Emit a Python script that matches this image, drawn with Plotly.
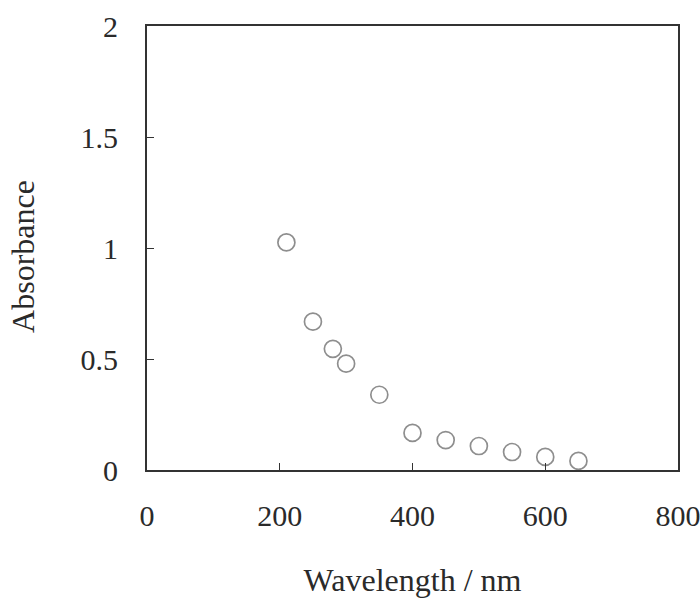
import plotly.graph_objects as go

wavelength = [210, 250, 280, 300, 350, 400, 450, 500, 550, 600, 650]
absorbance = [1.025, 0.668, 0.546, 0.479, 0.339, 0.167, 0.135, 0.108, 0.081, 0.059, 0.041]

x_ticks = [0, 200, 400, 600, 800]
y_ticks = [0, 0.5, 1, 1.5, 2]
y_tick_text = ["0", "0.5", "1", "1.5", "2"]

font_family = "Liberation Serif, Times New Roman, serif"

fig = go.Figure()
fig.add_trace(go.Scatter(
    x=wavelength, y=absorbance, mode="markers",
    marker=dict(symbol="circle-open", size=17, color="#8e8e8e", line=dict(width=1.7, color="#8e8e8e")),
    showlegend=False,
))

fig.update_layout(
    width=700, height=599,
    margin=dict(l=147, r=22, t=26, b=129),
    plot_bgcolor="white", paper_bgcolor="white",
    font=dict(family=font_family, size=30, color="#2a2a2a"),
    xaxis=dict(
        range=[0, 800], tickvals=x_ticks, ticktext=[str(v) for v in x_ticks],
        ticks="inside", ticklen=7, tickwidth=1, tickcolor="#333",
        showline=True, linecolor="#333", linewidth=2, mirror=True,
        showgrid=False, zeroline=False, ticklabelstandoff=18, automargin=False,
        ticklabeloverflow="allow",
        tickfont=dict(size=30),
        title=dict(text="Wavelength / nm", standoff=38, font=dict(size=32)),
    ),
    yaxis=dict(
        range=[0, 2], tickvals=y_ticks, ticktext=y_tick_text,
        ticks="inside", ticklen=7, tickwidth=1, tickcolor="#333",
        showline=True, linecolor="#333", linewidth=2, mirror=True,
        showgrid=False, zeroline=False, ticklabelstandoff=21, automargin=False,
        ticklabeloverflow="allow",
        tickfont=dict(size=30),
    ),
    annotations=[dict(
        text="Absorbance", xref="paper", yref="paper",
        x=(23 - 147) / 531, y=0.48, xanchor="center", yanchor="middle",
        textangle=-90, showarrow=False, font=dict(size=32),
    )],
)

fig.write_html("out.html")
